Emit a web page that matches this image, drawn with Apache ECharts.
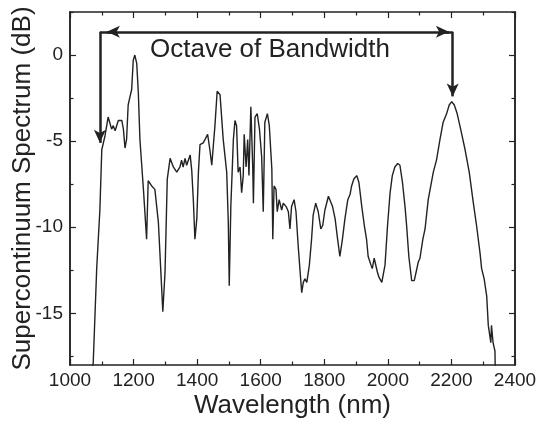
<!DOCTYPE html>
<html>
<head>
<meta charset="utf-8">
<script src="https://cdn.jsdelivr.net/npm/echarts@6/dist/echarts.min.js"></script>
<style>
  html, body { margin: 0; padding: 0; background: #fff; }
  #chart { width: 537px; height: 422px; }
</style>
</head>
<body>
<div id="chart"></div>
<script>
// values
var wavelength = [1068, 1073, 1084, 1094, 1100, 1110, 1120, 1131, 1136, 1142, 1152, 1157, 1163, 1168, 1173, 1178,
  1183, 1189, 1194, 1199, 1204, 1210, 1215, 1220, 1231, 1241, 1246, 1257, 1267, 1278, 1288, 1292, 1299, 1303, 1306,
  1315, 1325, 1336, 1346, 1351, 1356, 1362, 1367, 1378, 1383, 1388, 1393, 1399, 1404, 1409, 1419, 1425, 1433, 1440,
  1446, 1451, 1456, 1463, 1472, 1482, 1493, 1498, 1501, 1506, 1514, 1519, 1524, 1529, 1535, 1540, 1545, 1548, 1554,
  1559, 1563, 1569, 1575, 1577, 1582, 1589, 1596, 1603, 1608, 1613, 1621, 1627, 1635, 1638, 1642, 1648, 1652, 1658,
  1666, 1671, 1680, 1687, 1692, 1697, 1705, 1711, 1718, 1724, 1729, 1734, 1739, 1745, 1753, 1760, 1765, 1773, 1781,
  1789, 1795, 1802, 1813, 1818, 1826, 1834, 1842, 1849, 1857, 1865, 1874, 1881, 1886, 1893, 1902, 1909, 1918, 1926,
  1933, 1938, 1947, 1951, 1957, 1962, 1967, 1972, 1981, 1986, 1991, 1999, 2007, 2014, 2022, 2031, 2038, 2046, 2054,
  2059, 2066, 2075, 2083, 2089, 2096, 2101, 2110, 2117, 2127, 2143, 2153, 2164, 2174, 2185, 2193, 2201, 2209, 2218,
  2229, 2243, 2256, 2269, 2279, 2290, 2295, 2303, 2311, 2316, 2321, 2324, 2326, 2331, 2337, 2338];
var spectrum = [-18.5, -17.9, -12.4, -9.0, -5.5, -4.7, -3.6, -4.3, -4.1, -4.4, -3.8, -3.9, -3.8, -4.3, -5.4, -4.9,
  -2.9, -2.4, -2.0, -0.3, 0, -0.5, -2.2, -4.9, -7.8, -10.7, -7.3, -7.6, -7.8, -9.7, -13.4, -14.9, -12.6, -9.5, -7.2,
  -6.0, -6.5, -6.8, -6.5, -6.1, -6.5, -6.0, -6.4, -5.8, -6.7, -8.4, -10.7, -9.5, -6.8, -5.2, -5.1, -4.9, -4.6, -5.5,
  -6.4, -6.3, -4.1, -2.1, -2.3, -4.9, -6.8, -9.7, -13.4, -8.8, -4.9, -3.8, -4.1, -6.8, -6.5, -8.0, -7.0, -4.6, -6.5,
  -4.9, -7.0, -3.0, -6.6, -8.6, -3.6, -3.4, -4.3, -5.9, -9.1, -3.9, -3.4, -4.1, -6.6, -10.7, -7.6, -7.8, -9.1, -8.4,
  -9.0, -8.6, -8.8, -9.1, -10.1, -8.8, -8.4, -9.1, -11.1, -12.6, -13.8, -13.2, -13.0, -13.2, -12.2, -10.7, -9.3, -8.6, -9.1,
  -10.1, -9.9, -9.0, -8.2, -8.3, -8.8, -9.5, -10.7, -11.7, -10.7, -9.5, -8.4, -8.1, -7.6, -7.2, -7.0, -7.4, -8.8, -9.9,
  -10.7, -11.7, -12.2, -12.4, -11.8, -11.7, -12.6, -12.9, -13.2, -13.2, -12.2, -9.9, -8.0, -7.0, -6.5, -6.3, -6.4, -7.4, -8.8,
  -9.9, -11.7, -13.1, -13.1, -12.6, -12.0, -11.8, -10.7, -10.1, -8.4, -6.8, -6.1, -4.9, -3.9, -3.4, -2.9, -2.7, -2.9, -3.4,
  -4.3, -5.5, -6.8, -8.6, -9.9, -11.5, -12.4, -13.0, -14.0, -15.7, -15.7, -16.7, -15.7, -16.7, -17.2, -18.5];

var xTickLabels = [1000, 1200, 1400, 1600, 1800, 2000, 2200, 2400];
var yMajorTicks = [-15, -10, -5, 0];
var yMinorTicks = [-17.5, -12.5, -7.5, -2.5, 2.5];

// the "octave" bracket, in data units
var bracketLeft = 1094, bracketRight = 2204, bracketTop = 1.35;
var leftArrowEnd = -5.1, rightArrowEnd = -2.4;

var ink = '#222';
var font = '"Liberation Sans", Arial, sans-serif';

var myChart = echarts.init(document.getElementById('chart'));

function yAxisPart(pos, ticks, len, labels) {
  return {
    type: 'value', position: pos, min: -18, max: 2.5,
    axisLine: { show: true, onZero: false, lineStyle: { color: ink, width: 1.5 } },
    axisTick: { show: true, inside: true, length: len, customValues: ticks, lineStyle: { color: ink, width: 1.2 } },
    axisLabel: labels ? { show: true, customValues: ticks, margin: 7, color: ink, fontSize: 19, fontFamily: font } : { show: false },
    splitLine: { show: false }
  };
}

var pairs = wavelength.map(function (w, i) { return [w, spectrum[i]]; });

var option = {
  backgroundColor: '#fff',
  animation: false,
  grid: { left: 70, right: 22, top: 12, bottom: 57, outerBoundsMode: 'none' },
  xAxis: [
    {
      type: 'value', position: 'bottom', min: 1000, max: 2400, interval: 200,
      name: 'Wavelength (nm)', nameLocation: 'middle', nameGap: 28, nameMoveOverlap: false,
      nameTextStyle: { color: ink, fontSize: 26, fontFamily: font },
      axisLine: { show: true, onZero: false, lineStyle: { color: ink, width: 1.5 } },
      axisTick: { inside: true, length: 6, lineStyle: { color: ink, width: 1.2 } },
      minorTick: { show: true, splitNumber: 2, length: 3.5, lineStyle: { color: ink, width: 1.2 } },
      axisLabel: {
        margin: 6, color: ink, fontSize: 19, fontFamily: font,
        formatter: function (v) { return xTickLabels.indexOf(v) >= 0 ? String(v) : ''; }
      },
      splitLine: { show: false }
    },
    {
      type: 'value', position: 'top', min: 1000, max: 2400, interval: 200,
      axisLine: { show: true, onZero: false, lineStyle: { color: ink, width: 1.5 } },
      axisTick: { inside: true, length: 6, lineStyle: { color: ink, width: 1.2 } },
      minorTick: { show: true, splitNumber: 2, length: 3.5, lineStyle: { color: ink, width: 1.2 } },
      axisLabel: { show: false },
      splitLine: { show: false }
    }
  ],
  yAxis: [
    Object.assign(yAxisPart('left', yMajorTicks, 6, true), {
      name: 'Supercontinuum Spectrum (dB)', nameLocation: 'middle', nameGap: 34, nameMoveOverlap: false,
      nameTextStyle: { color: ink, fontSize: 26, fontFamily: font }
    }),
    yAxisPart('left', yMinorTicks, 3.5, false),
    yAxisPart('right', yMajorTicks, 6, false),
    yAxisPart('right', yMinorTicks, 3.5, false)
  ],
  graphic: [{
    type: 'text', left: 150, top: 37,
    style: { text: 'Octave of Bandwidth', fill: ink, font: '26px ' + font }
  }],
  series: [{
    type: 'line',
    data: pairs,
    showSymbol: false,
    lineStyle: { color: ink, width: 1.4 },
    markLine: {
      silent: true,
      symbol: ['none', 'none'],
      label: { show: false },
      lineStyle: { color: ink, width: 2.5, type: 'solid' },
      data: [
        [{ coord: [bracketLeft, bracketTop] }, { coord: [bracketRight, bracketTop] }],
        [{ coord: [bracketLeft + 40, bracketTop] }, { coord: [bracketLeft + 22, bracketTop], symbol: 'arrow', symbolSize: [9, 13] }],
        [{ coord: [bracketRight - 40, bracketTop] }, { coord: [bracketRight - 12, bracketTop], symbol: 'arrow', symbolSize: [9, 13] }],
        [{ coord: [bracketLeft, bracketTop] }, { coord: [bracketLeft, leftArrowEnd], symbol: 'arrow', symbolSize: [9, 13] }],
        [{ coord: [bracketRight, bracketTop] }, { coord: [bracketRight, rightArrowEnd], symbol: 'arrow', symbolSize: [9, 13] }]
      ]
    }
  }]
};

myChart.setOption(option);
</script>
</body>
</html>
